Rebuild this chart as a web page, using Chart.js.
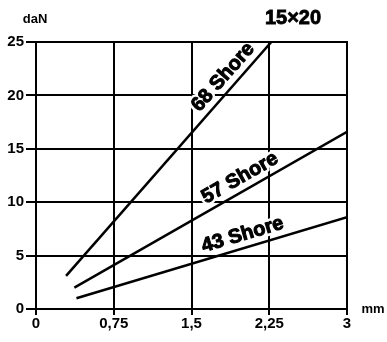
<!DOCTYPE html>
<html lang="en">
<head>
  <meta charset="UTF-8">
  <title>15x20</title>
  <script src="https://cdn.jsdelivr.net/npm/chart.js"></script>
  <style>
    html, body { margin: 0; padding: 0; background: #fff; }
  </style>
</head>
<body>
  <canvas id="shoreChart" width="387" height="342"></canvas>
  <script>
    // axis ticks
    const xTicks = [0, 0.75, 1.5, 2.25, 3];
    const xTickLabels = ['0', '0,75', '1,5', '2,25', '3'];
    const yTicks = [0, 5, 10, 15, 20, 25];

    // series (deflection mm -> load daN)
    const seriesNames = ['68 Shore', '57 Shore', '43 Shore'];
    const shore68X = [0.29, 2.27];
    const shore68Y = [3.1, 25];
    const shore57X = [0.37, 3];
    const shore57Y = [2.0, 16.6];
    const shore43X = [0.39, 3];
    const shore43Y = [1.0, 8.6];

    const toPoints = (xs, ys) => xs.map((x, i) => ({ x: x, y: ys[i] }));

    const FONT = '"Liberation Sans", Arial, sans-serif';

    // where along each line (in mm) the label sits
    const labelAt = [1.9, 2.03, 2.03];

    const lineLabels = {
      id: 'lineLabels',
      afterDatasetsDraw(chart) {
        const ctx = chart.ctx;
        const xs = chart.scales.x, ys = chart.scales.y;
        chart.data.datasets.forEach((ds, i) => {
          const p0 = ds.data[0], p1 = ds.data[1];
          const a = Math.atan2(ys.getPixelForValue(p1.y) - ys.getPixelForValue(p0.y),
                               xs.getPixelForValue(p1.x) - xs.getPixelForValue(p0.x));
          const t = labelAt[i];
          const v = p0.y + (t - p0.x) * (p1.y - p0.y) / (p1.x - p0.x);
          ctx.save();
          ctx.translate(xs.getPixelForValue(t), ys.getPixelForValue(v));
          ctx.rotate(a);
          ctx.font = 'bold 20px ' + FONT;
          ctx.textAlign = 'center';
          ctx.textBaseline = 'bottom';
          ctx.lineJoin = 'round';
          ctx.lineWidth = 6;
          ctx.strokeStyle = '#fff';
          ctx.strokeText(seriesNames[i], 0, -3);
          ctx.fillStyle = '#000';
          ctx.fillText(seriesNames[i], 0, -3);
          ctx.lineWidth = 1;
          ctx.strokeStyle = '#000';
          ctx.strokeText(seriesNames[i], 0, -3);
          ctx.restore();
        });
      }
    };

    const extraText = {
      id: 'extraText',
      afterDraw(chart) {
        const ctx = chart.ctx;
        const area = chart.chartArea;
        ctx.save();
        // frame around the plot
        ctx.strokeStyle = '#000';
        ctx.lineWidth = 2;
        ctx.strokeRect(area.left, area.top, area.right - area.left, area.bottom - area.top);
        ctx.fillStyle = '#000';
        ctx.textBaseline = 'middle';
        ctx.textAlign = 'center';
        ctx.font = 'bold 13px ' + FONT;
        ctx.fillText('daN', 35, 19);
        ctx.fillText('mm', area.right + 26, area.bottom);
        ctx.font = 'bold 20px ' + FONT;
        ctx.fillText('15\u00d720', 293, 18);
        ctx.lineWidth = 0.8;
        ctx.strokeText('15\u00d720', 293, 18);
        ctx.restore();
      }
    };

    new Chart(document.getElementById('shoreChart'), {
      type: 'line',
      data: {
        datasets: [
          { label: seriesNames[0], data: toPoints(shore68X, shore68Y) },
          { label: seriesNames[1], data: toPoints(shore57X, shore57Y) },
          { label: seriesNames[2], data: toPoints(shore43X, shore43Y) }
        ].map(d => Object.assign(d, {
          borderColor: '#000',
          borderWidth: 2.5,
          pointRadius: 0,
          fill: false,
          tension: 0
        }))
      },
      options: {
        responsive: false,
        animation: false,
        layout: { padding: { left: 0, right: 40, top: 42, bottom: 0 } },
        plugins: {
          legend: { display: false },
          tooltip: { enabled: false }
        },
        scales: {
          x: {
            type: 'linear',
            min: 0,
            max: 3,
            afterBuildTicks: axis => { axis.ticks = xTicks.map(v => ({ value: v })); },
            afterFit: axis => { axis.height = 33; },
            grid: { color: '#000', lineWidth: 2, tickLength: 6 },
            border: { color: '#000', width: 2 },
            ticks: {
              color: '#000',
              font: { family: FONT, size: 15, weight: 'bold' },
              padding: 0,
              maxRotation: 0,
              callback: v => xTickLabels[xTicks.indexOf(v)]
            }
          },
          y: {
            min: 0,
            max: 25,
            afterBuildTicks: axis => { axis.ticks = yTicks.map(v => ({ value: v })); },
            afterFit: axis => { axis.width = 36; },
            grid: { color: '#000', lineWidth: 2, tickLength: 10 },
            border: { color: '#000', width: 2 },
            ticks: {
              color: '#000',
              font: { family: FONT, size: 15, weight: 'bold' },
              padding: 2
            }
          }
        }
      },
      plugins: [lineLabels, extraText]
    });
  </script>
</body>
</html>
